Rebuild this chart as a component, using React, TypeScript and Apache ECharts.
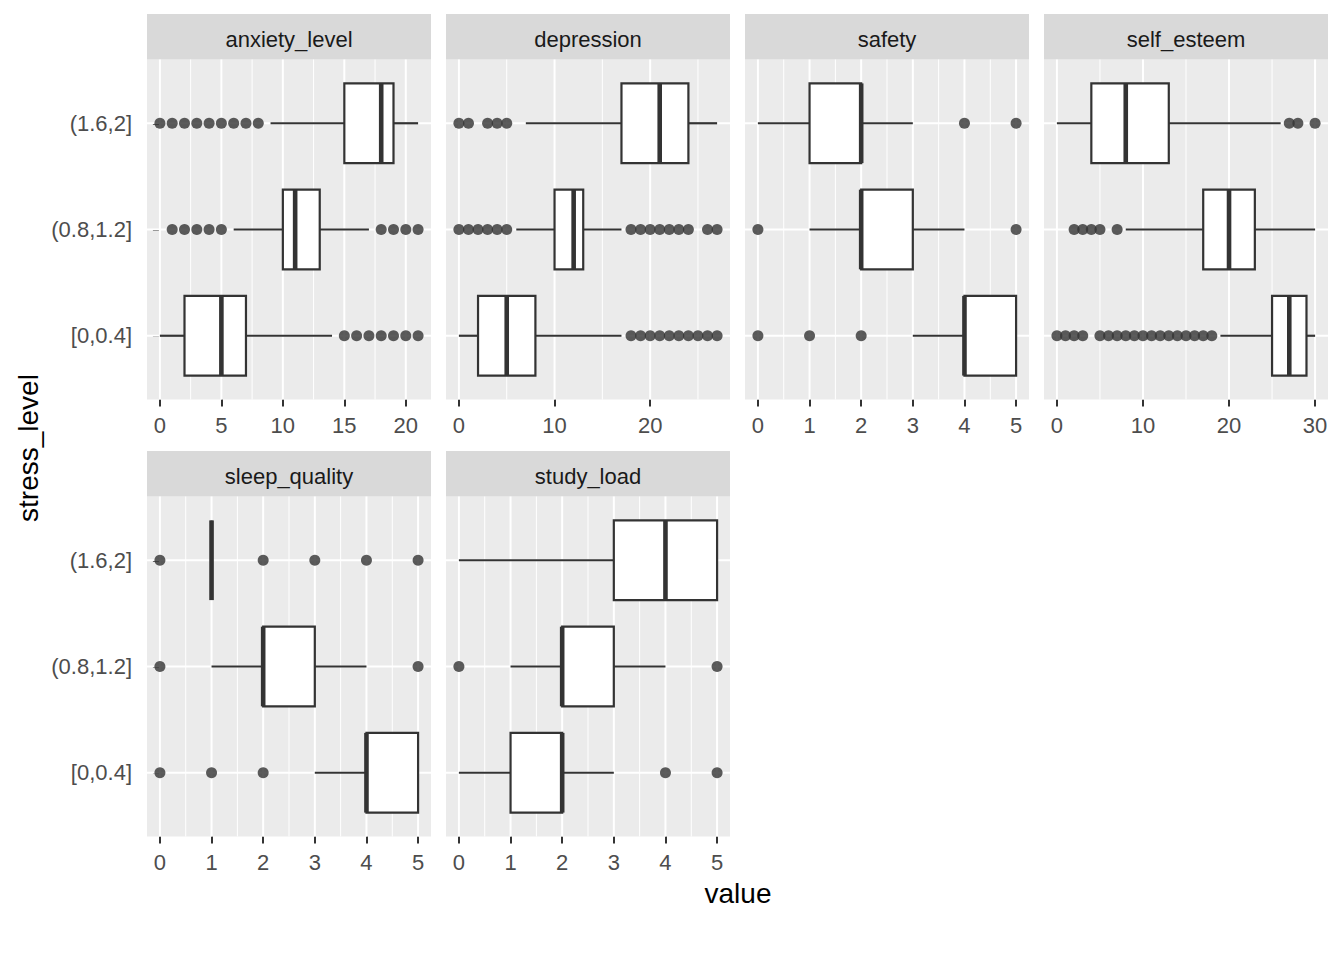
import React, { useEffect, useRef } from "react";
import * as echarts from "echarts";

// stress level categories (bottom to top)
const stressLevels = ["[0,0.4]", "(0.8,1.2]", "(1.6,2]"];
const panelNames = ["anxiety_level", "depression", "safety", "self_esteem", "sleep_quality", "study_load"];

// box stats per stress level: [lower whisker, Q1, median, Q3, upper whisker]
const anxietyBox = [[0, 2, 5, 7, 14], [6, 10, 11, 13, 17], [9, 15, 18, 19, 21]];
const anxietyOut = [[15, 16, 17, 18, 19, 20, 21], [1, 2, 3, 4, 5, 18, 19, 20, 21], [0, 1, 2, 3, 4, 5, 6, 7, 8]];

const depressionBox = [[0, 2, 5, 8, 17], [6, 10, 12, 13, 17], [7, 17, 21, 24, 27]];
const depressionOut = [
  [18, 19, 20, 21, 22, 23, 24, 25, 26, 27],
  [0, 1, 2, 3, 4, 5, 18, 19, 20, 21, 22, 23, 24, 26, 27],
  [0, 1, 3, 4, 5],
];

const safetyBox = [[3, 4, 4, 5, 5], [1, 2, 2, 3, 4], [0, 1, 2, 2, 3]];
const safetyOut = [[0, 1, 2], [0, 5], [4, 5]];

const selfEsteemBox = [[19, 25, 27, 29, 30], [8, 17, 20, 23, 30], [0, 4, 8, 13, 26]];
const selfEsteemOut = [
  [0, 1, 2, 3, 5, 6, 7, 8, 9, 10, 11, 12, 13, 14, 15, 16, 17, 18],
  [2, 3, 4, 5, 7],
  [27, 28, 30],
];

const sleepBox = [[3, 4, 4, 5, 5], [1, 2, 2, 3, 4], [1, 1, 1, 1, 1]];
const sleepOut = [[0, 1, 2], [0, 5], [0, 2, 3, 4, 5]];

const studyBox = [[0, 1, 2, 2, 3], [1, 2, 2, 3, 4], [0, 3, 4, 5, 5]];
const studyOut = [[4, 5], [0, 5], []];

const boxStats = [anxietyBox, depressionBox, safetyBox, selfEsteemBox, sleepBox, studyBox];
const outliers = [anxietyOut, depressionOut, safetyOut, selfEsteemOut, sleepOut, studyOut];

// x data ranges and tick breaks
const xRanges = [[0, 21], [0, 27], [0, 5], [0, 30], [0, 5], [0, 5]];
const xBreaks = [
  [0, 5, 10, 15, 20],
  [0, 10, 20],
  [0, 1, 2, 3, 4, 5],
  [0, 10, 20, 30],
  [0, 1, 2, 3, 4, 5],
  [0, 1, 2, 3, 4, 5],
];
const xMinorBreaks = [
  [2.5, 7.5, 12.5, 17.5],
  [5, 15, 25],
  [0.5, 1.5, 2.5, 3.5, 4.5],
  [5, 15, 25],
  [0.5, 1.5, 2.5, 3.5, 4.5],
  [0.5, 1.5, 2.5, 3.5, 4.5],
];

const FONT = '"Liberation Sans", Arial, sans-serif';
const Y_MIN = 0.4;
const Y_MAX = 3.6;
const PANEL_LEFTS = [147, 446, 745, 1044];
const PANEL_TOPS = [59.5, 496.5];
const PANEL_W = 284;
const PANEL_H = 340;
const STRIP_H = 45.5;

function buildOption() {
  const grid: any[] = [];
  const xAxis: any[] = [];
  const yAxis: any[] = [];
  const series: any[] = [];
  const graphic: any[] = [];

  panelNames.forEach((name, i) => {
    const col = i % 4;
    const row = Math.floor(i / 4);
    const left = PANEL_LEFTS[col];
    const top = PANEL_TOPS[row];
    const [d0, d1] = xRanges[i];
    const pad = (d1 - d0) * 0.05;
    const xmin = d0 - pad;
    const xmax = d1 + pad;

    grid.push({
      left,
      top,
      width: PANEL_W,
      height: PANEL_H,
      show: true,
      backgroundColor: "#EBEBEB",
      borderWidth: 0,
      containLabel: false,
    });

    xAxis.push({
      type: "value",
      gridIndex: i,
      min: xmin,
      max: xmax,
      axisLine: { show: false },
      splitLine: { show: false },
      axisTick: {
        show: true,
        length: 7,
        customValues: xBreaks[i],
        lineStyle: { color: "#333333", width: 2 },
      },
      axisLabel: {
        show: true,
        customValues: xBreaks[i],
        margin: 15,
        color: "#4D4D4D",
        fontSize: 22,
        fontFamily: FONT,
        formatter: (v: number) => String(v),
      },
    });

    const showY = col === 0;
    yAxis.push({
      type: "value",
      gridIndex: i,
      min: Y_MIN,
      max: Y_MAX,
      axisLine: { show: false },
      splitLine: { show: false },
      axisTick: {
        show: showY,
        length: 7,
        customValues: [1, 2, 3],
        lineStyle: { color: "#333333", width: 2 },
      },
      axisLabel: {
        show: showY,
        customValues: [1, 2, 3],
        margin: 15,
        color: "#4D4D4D",
        fontSize: 22,
        fontFamily: FONT,
        formatter: (v: number) => stressLevels[Math.round(v) - 1] ?? "",
      },
    });

    // grid lines: kind 0 = major x, 1 = minor x, 2 = y
    const gridData: number[][] = [];
    xMinorBreaks[i].forEach((v) => gridData.push([1, v]));
    xBreaks[i].forEach((v) => gridData.push([0, v]));
    stressLevels.forEach((_, k) => gridData.push([2, k + 1]));

    series.push({
      type: "custom",
      xAxisIndex: i,
      yAxisIndex: i,
      silent: true,
      z: 1,
      data: gridData,
      encode: { x: 1, y: 0 },
      renderItem: (params: any, api: any) => {
        const kind = api.value(0);
        const v = api.value(1);
        let a, b;
        if (kind === 2) {
          a = api.coord([xmin, v]);
          b = api.coord([xmax, v]);
        } else {
          a = api.coord([v, Y_MIN]);
          b = api.coord([v, Y_MAX]);
        }
        return {
          type: "line",
          shape: { x1: a[0], y1: a[1], x2: b[0], y2: b[1] },
          style: { stroke: "#FFFFFF", lineWidth: kind === 1 ? 1 : 2 },
        };
      },
    });

    // boxes
    const boxData = boxStats[i].map((s, k) => [k + 1, ...s]);
    series.push({
      type: "custom",
      xAxisIndex: i,
      yAxisIndex: i,
      silent: true,
      z: 3,
      data: boxData,
      encode: { x: [1, 2, 3, 4, 5], y: 0 },
      renderItem: (params: any, api: any) => {
        const pos = api.value(0);
        const lo = api.value(1);
        const q1 = api.value(2);
        const med = api.value(3);
        const q3 = api.value(4);
        const hi = api.value(5);
        const hw = 0.375;
        const pLo = api.coord([lo, pos]);
        const pQ1 = api.coord([q1, pos]);
        const pQ3 = api.coord([q3, pos]);
        const pHi = api.coord([hi, pos]);
        const top = api.coord([q1, pos + hw])[1];
        const bot = api.coord([q1, pos - hw])[1];
        const mx = api.coord([med, pos])[0];
        const stroke = "#333333";
        const children: any[] = [
          {
            type: "line",
            shape: { x1: pLo[0], y1: pLo[1], x2: pQ1[0], y2: pQ1[1] },
            style: { stroke, lineWidth: 2.2 },
          },
          {
            type: "line",
            shape: { x1: pQ3[0], y1: pQ3[1], x2: pHi[0], y2: pHi[1] },
            style: { stroke, lineWidth: 2.2 },
          },
          {
            type: "rect",
            shape: { x: pQ1[0], y: top, width: pQ3[0] - pQ1[0], height: bot - top },
            style: { fill: "#FFFFFF", stroke, lineWidth: 2.2 },
          },
          {
            type: "line",
            shape: { x1: mx, y1: top, x2: mx, y2: bot },
            style: { stroke, lineWidth: 4.6 },
          },
        ];
        return { type: "group", children };
      },
    });

    // outliers
    const outData: number[][] = [];
    outliers[i].forEach((vals, k) => vals.forEach((v) => outData.push([v, k + 1])));
    series.push({
      type: "scatter",
      xAxisIndex: i,
      yAxisIndex: i,
      silent: true,
      z: 4,
      symbol: "circle",
      symbolSize: 11,
      itemStyle: { color: "#333333" },
      data: outData,
    });

    // strip
    graphic.push({
      type: "rect",
      shape: { x: left, y: top - STRIP_H, width: PANEL_W, height: STRIP_H },
      style: { fill: "#D9D9D9" },
      silent: true,
    });
    graphic.push({
      type: "text",
      x: left + PANEL_W / 2,
      y: top - STRIP_H / 2 + 2.5,
      silent: true,
      style: {
        text: name,
        fill: "#1A1A1A",
        fontSize: 22,
        fontFamily: FONT,
        align: "center",
        verticalAlign: "middle",
        textAlign: "center",
        textVerticalAlign: "middle",
      },
    });
  });

  // axis titles
  graphic.push({
    type: "text",
    x: 738,
    y: 893,
    silent: true,
    style: {
      text: "value",
      fill: "#000000",
      fontSize: 28,
      fontFamily: FONT,
      align: "center",
      verticalAlign: "middle",
      textAlign: "center",
      textVerticalAlign: "middle",
    },
  });
  graphic.push({
    type: "text",
    x: 28,
    y: 448,
    rotation: Math.PI / 2,
    silent: true,
    style: {
      text: "stress_level",
      fill: "#000000",
      fontSize: 28,
      fontFamily: FONT,
      align: "center",
      verticalAlign: "middle",
      textAlign: "center",
      textVerticalAlign: "middle",
    },
  });

  return {
    animation: false,
    backgroundColor: "#FFFFFF",
    textStyle: { fontFamily: FONT },
    grid,
    xAxis,
    yAxis,
    series,
    graphic,
  };
}

export default function App() {
  const ref = useRef<HTMLDivElement>(null);
  useEffect(() => {
    document.body.style.margin = "0";
    const chart = echarts.init(ref.current as HTMLDivElement, null, { renderer: "svg" });
    chart.setOption(buildOption() as any);
    return () => chart.dispose();
  }, []);
  return <div ref={ref} style={{ width: 1344, height: 960 }} />;
}
